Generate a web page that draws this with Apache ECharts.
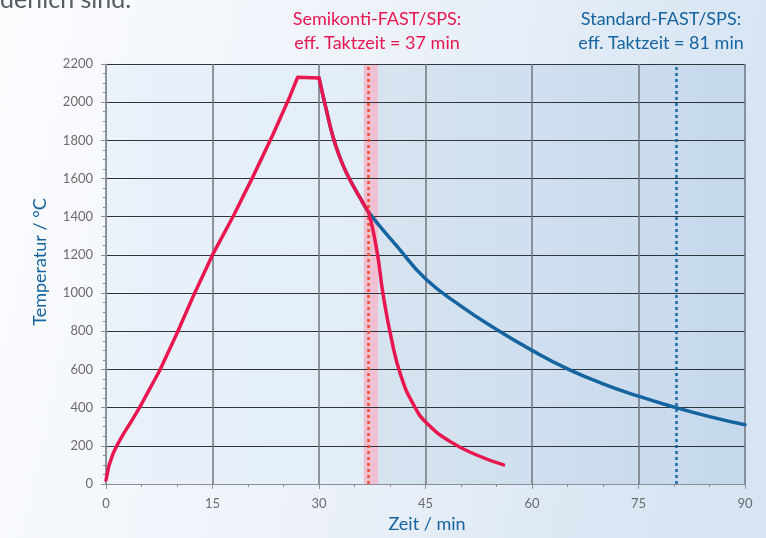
<!DOCTYPE html>
<html>
<head>
<meta charset="utf-8">
<script src="https://cdn.jsdelivr.net/npm/echarts@6/dist/echarts.min.js"></script>
<style>
  html, body { margin: 0; padding: 0; }
  #chart { width: 766px; height: 538px; }
</style>
</head>
<body>
<div id="chart"></div>
<script>
// Zeit in min, Temperatur in °C
const heatRamp = [
  [0, 21], [0.4, 95], [1, 160], [1.7, 213], [2.5, 265], [3.4, 318], [4.8, 405], [7.6, 597],
  [10, 790], [12.3, 985], [13.5, 1080], [15, 1200], [17.9, 1401],
  [20.7, 1610], [23.5, 1829], [25.9, 2030], [27, 2131], [30, 2127]
];
const sharedCool = [
  [30, 2127], [31, 1965], [32, 1815], [33, 1705], [34, 1620], [35, 1550], [36, 1485], [37, 1423]
];
const semikontiCool = [
  [37, 1423], [37.6, 1330], [38.3, 1190], [39, 1000], [40.2, 760], [41.6, 560],
  [43.4, 410], [45.2, 318], [48.5, 222], [52.2, 152], [56, 100]
];
const standardCool = [
  [37, 1423], [41, 1245], [45, 1075], [50, 932], [55, 810], [60, 700],
  [65, 603], [70, 525], [75, 460], [80, 403], [85, 353], [90, 310]
];
const taktSemikonti = 37;
const taktStandard = 80.3;
const bandSemikonti = [36.3, 38.3];

const RED = '#e8174f';
const BLUE = '#15639f';
const FONT = 'Lato';

const chart = echarts.init(document.getElementById('chart'));

chart.setOption({
  animation: false,
  backgroundColor: {
    type: 'linear', x: 0, y: 0, x2: 1, y2: 0.3,
    colorStops: [
      { offset: 0, color: '#fbfcfe' },
      { offset: 0.5, color: '#edf2f9' },
      { offset: 1, color: '#d6e4f3' }
    ]
  },
  grid: { left: 106, right: 21, top: 64, bottom: 54 },
  xAxis: {
    type: 'value',
    min: 0, max: 90, interval: 15,
    z: 5,
    axisLine: { lineStyle: { color: '#8a8f95', width: 1 } },
    axisTick: { length: 5, lineStyle: { color: '#8a8f95' } },
    minorTick: { show: true, splitNumber: 3, length: 3, lineStyle: { color: '#8a8f95' } },
    splitLine: { show: true, lineStyle: { color: '#6f757c', width: 1.5 } },
    axisLabel: { color: '#6b6b6b', fontSize: 13, fontFamily: FONT, margin: 13 }
  },
  yAxis: {
    type: 'value',
    min: 0, max: 2200, interval: 200,
    z: 5,
    axisLine: { show: true, lineStyle: { color: '#8a8f95', width: 1 } },
    axisTick: { show: true, length: 5, lineStyle: { color: '#8a8f95' } },
    minorTick: { show: true, splitNumber: 4, length: 3, lineStyle: { color: '#8a8f95' } },
    splitLine: { show: true, lineStyle: { color: '#2f353b', width: 1 } },
    axisLabel: { color: '#6b6b6b', fontSize: 13, fontFamily: FONT, margin: 13, formatter: v => String(v) }
  },
  graphic: [
    { type: 'text', left: 0, top: -13, style: { text: 'derlich sind.', fontSize: 25, fontFamily: FONT, fill: '#555b61' } },
    { type: 'text', x: 377, y: 19, style: { text: 'Semikonti-FAST/SPS:', fontSize: 18, fontFamily: FONT, fill: RED, align: 'center', verticalAlign: 'middle' } },
    { type: 'text', x: 377, y: 43, style: { text: 'eff. Taktzeit = 37 min', fontSize: 18, fontFamily: FONT, fill: RED, align: 'center', verticalAlign: 'middle' } },
    { type: 'text', x: 661, y: 19, style: { text: 'Standard-FAST/SPS:', fontSize: 18, fontFamily: FONT, fill: BLUE, align: 'center', verticalAlign: 'middle' } },
    { type: 'text', x: 661, y: 43, style: { text: 'eff. Taktzeit = 81 min', fontSize: 18, fontFamily: FONT, fill: BLUE, align: 'center', verticalAlign: 'middle' } },
    { type: 'text', x: 40, y: 262, rotation: Math.PI / 2, style: { text: 'Temperatur / °C', fontSize: 18, fontFamily: FONT, fill: BLUE, align: 'center', verticalAlign: 'middle' } },
    { type: 'text', x: 427, y: 524, style: { text: 'Zeit / min', fontSize: 18, fontFamily: FONT, fill: BLUE, align: 'center', verticalAlign: 'middle' } }
  ],
  series: [
    {
      // Hintergrundflächen
      type: 'line',
      z: 1,
      data: [],
      markArea: {
        silent: true,
        data: [
          [{ xAxis: 0, itemStyle: { color: { type: 'linear', x: 0, y: 0, x2: 1, y2: 0, colorStops: [{ offset: 0, color: '#eaf2fa' }, { offset: 1, color: '#e2edf8' }] } } }, { xAxis: bandSemikonti[0] }],
          [{ xAxis: bandSemikonti[0], itemStyle: { color: '#efc0d1' } }, { xAxis: bandSemikonti[1] }],
          [{ xAxis: bandSemikonti[1], itemStyle: { color: { type: 'linear', x: 0, y: 0, x2: 1, y2: 0, colorStops: [{ offset: 0, color: '#d7e4f0' }, { offset: 1, color: '#c5d8ec' }] } } }, { xAxis: 90 }]
        ]
      }
    },
    {
      name: 'Standard-FAST/SPS',
      type: 'line',
      z: 8,
      data: sharedCool.concat(standardCool.slice(1)),
      smooth: 0.5,
      showSymbol: false,
      lineStyle: { color: BLUE, width: 3.5, cap: 'round' },
      markLine: {
        silent: true,
        symbol: 'none',
        label: { show: false },
        lineStyle: { color: '#1a6aa8', width: 2.5, type: [3, 3] },
        data: [{ xAxis: taktStandard }]
      }
    },
    {
      name: 'Semikonti Aufheizen',
      type: 'line',
      z: 9,
      data: heatRamp,
      showSymbol: false,
      lineStyle: { color: RED, width: 3.5, cap: 'round', join: 'round' }
    },
    {
      name: 'Semikonti Abkühlen',
      type: 'line',
      z: 9,
      data: sharedCool,
      smooth: 0.5,
      showSymbol: false,
      lineStyle: { color: RED, width: 3.5, cap: 'round' }
    },
    {
      name: 'Semikonti-FAST/SPS',
      type: 'line',
      z: 9,
      data: semikontiCool,
      smooth: 0.5,
      showSymbol: false,
      lineStyle: { color: RED, width: 3.5, cap: 'round' },
      markLine: {
        silent: true,
        symbol: 'none',
        label: { show: false },
        lineStyle: { color: '#f0502f', width: 2.5, type: [3, 3] },
        data: [{ xAxis: taktSemikonti }]
      }
    }
  ]
});
</script>
</body>
</html>
